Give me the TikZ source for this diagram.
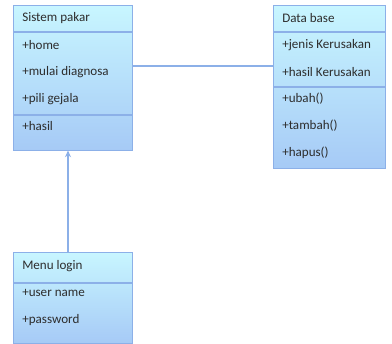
\documentclass[tikz,border=0pt]{standalone}
\usepackage{fontspec}
\setmainfont{Carlito}
\usetikzlibrary{arrows.meta}
\definecolor{boxtop}{RGB}{200,246,255}
\definecolor{boxbot}{RGB}{166,202,246}
\definecolor{boxline}{RGB}{140,176,232}
\definecolor{txt}{RGB}{45,45,45}

\tikzset{
	classbox/.style={draw=boxline, top color=boxtop, bottom color=boxbot, anchor=north west, inner sep=0pt},
	divline/.style={draw=boxline, thick},
	item/.style={anchor=west, inner sep=0pt, text=txt}
}

\begin{document}
\begin{tikzpicture}[x=0.75pt,y=-0.75pt,font=\fontsize{9.8}{11}\selectfont]
	\useasboundingbox	(0,0) rectangle (392,343);

	\node[classbox, minimum width=89.25pt, minimum height=108.75pt]	(pakar) at (13,5) {};
	\node[classbox, minimum width=84pt, minimum height=122.25pt]	(db) at (273,5) {};
	\node[classbox, minimum width=89.25pt, minimum height=68.25pt]	(login) at (13,252) {};

	\draw[divline]		(pakar.west |- 0,32) -- (pakar.east |- 0,32);
	\draw[divline]		(pakar.west |- 0,115) -- (pakar.east |- 0,115);
	\draw[divline]		(db.west |- 0,32) -- (db.east |- 0,32);
	\draw[divline]		(db.west |- 0,87) -- (db.east |- 0,87);
	\draw[divline]		(login.west |- 0,283) -- (login.east |- 0,283);

	\node[item] (pakarname)	at (22,18)	{Sistem pakar};
	\node[item] (home)		at (22,45)	{+home};
	\node[item] (mulai)		at (22,72)	{+mulai diagnosa};
	\node[item] (pili)		at (22,99)	{+pili gejala};
	\node[item] (hasil)		at (22,126)	{+hasil};

	\node[item] (dbname)	at (282,18)	{Data base};
	\node[item] (jenis)		at (282,45)	{+jenis Kerusakan};
	\node[item] (hasilk)	at (282,72)	{+hasil Kerusakan};
	\node[item] (ubah)		at (282,99)	{+ubah()};
	\node[item] (tambah)	at (282,126)	{+tambah()};
	\node[item] (hapus)		at (282,153)	{+hapus()};

	\node[item] (loginname)	at (22,266)	{Menu login};
	\node[item] (user)		at (22,293)	{+user name};
	\node[item] (pass)		at (22,320)	{+password};

	\draw[boxline, thick]	(pakar.east |- 0,66) -- (db.west |- 0,66);
	\draw[boxline, thick, -{Stealth[length=5pt,width=4.5pt]}]
					(login.north -| 68,0) -- (pakar.south -| 68,0);
\end{tikzpicture}
\end{document}
